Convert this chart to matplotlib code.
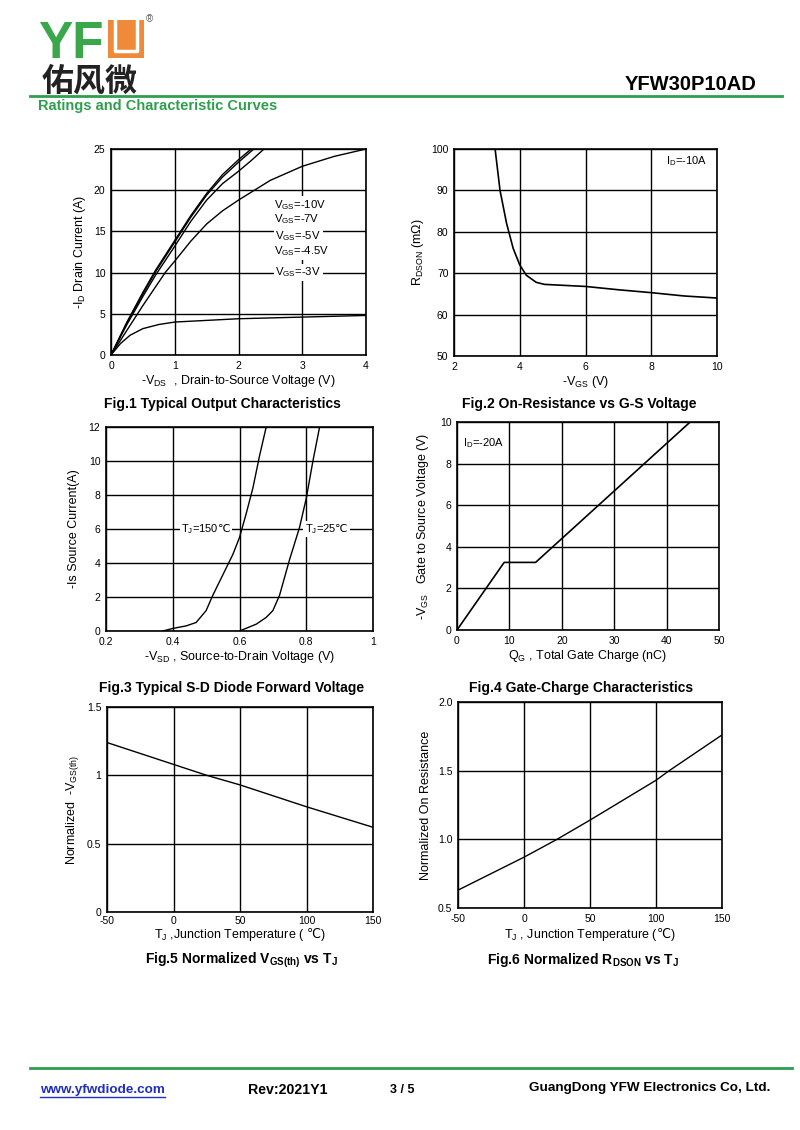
import matplotlib
matplotlib.use("Agg")
import matplotlib.pyplot as plt
from matplotlib.patches import Rectangle
from matplotlib.lines import Line2D

plt.rcParams['font.family'] = ['Liberation Sans', 'DejaVu Sans']
plt.rcParams['mathtext.fontset'] = 'custom'
plt.rcParams['mathtext.rm'] = 'Liberation Sans'
plt.rcParams['mathtext.it'] = 'Liberation Sans'
plt.rcParams['mathtext.bf'] = 'Liberation Sans:bold'
plt.rcParams['mathtext.sf'] = 'DejaVu Sans'
plt.rcParams['axes.unicode_minus'] = False

W, H = 800, 1130
DEGC = '$\\mathsf{\u2103}$'

# ---- data ----
# Fig.1 output characteristics
vds_10 = [0, 0.25, 0.5, 0.7, 1.0, 1.25, 1.5, 1.75, 2.0, 2.2]
id_10 = [0, 4.0, 7.6, 10.3, 13.9, 16.9, 19.6, 21.9, 23.7, 25.0]
vds_7 = [0, 0.25, 0.5, 0.7, 1.0, 1.25, 1.5, 1.75, 2.0, 2.24]
id_7 = [0, 3.9, 7.4, 10.1, 13.7, 16.7, 19.4, 21.6, 23.4, 25.0]
vds_5 = [0, 0.25, 0.5, 0.7, 1.0, 1.25, 1.5, 1.75, 2.0, 2.2, 2.4]
id_5 = [0, 3.7, 7.1, 9.7, 13.2, 16.2, 18.8, 20.8, 22.3, 23.6, 25.0]
vds_45 = [0, 0.25, 0.5, 0.85, 1.0, 1.25, 1.5, 1.75, 2.0, 2.25, 2.5, 3.0, 3.5, 4.0]
id_45 = [0, 3.0, 6.0, 10.0, 11.4, 13.8, 15.9, 17.5, 18.8, 20.0, 21.2, 22.9, 24.1, 25.0]
vds_3 = [0, 0.15, 0.3, 0.5, 0.75, 1.0, 1.5, 2.0, 3.0, 4.0]
id_3 = [0, 1.4, 2.4, 3.2, 3.7, 4.0, 4.2, 4.4, 4.6, 4.8]
vgs_labels = ['$\\mathregular{V_{GS}}$=-10V', '$\\mathregular{V_{GS}}$=-7V',
              '$\\mathregular{V_{GS}}$=-5V', '$\\mathregular{V_{GS}}$=-4.5V',
              '$\\mathregular{V_{GS}}$=-3V']

# Fig.2 on-resistance vs Vgs
vgs_r = [3.25, 3.4, 3.6, 3.8, 4.0, 4.2, 4.5, 4.75, 5.0, 6.0, 7.0, 8.0, 9.0, 10.0]
rdson = [100, 90, 82, 76, 72, 69.5, 67.8, 67.3, 67.2, 66.8, 66.0, 65.3, 64.5, 64.0]

# Fig.3 diode forward voltage
vsd_150 = [0.37, 0.40, 0.44, 0.47, 0.50, 0.52, 0.55, 0.58, 0.60, 0.62, 0.64, 0.66, 0.68]
is_150 = [0, 0.15, 0.3, 0.5, 1.2, 2.1, 3.3, 4.5, 5.5, 6.9, 8.4, 10.3, 12.0]
vsd_25 = [0.60, 0.65, 0.68, 0.70, 0.72, 0.75, 0.78, 0.80, 0.82, 0.84]
is_25 = [0, 0.4, 0.8, 1.2, 2.1, 4.2, 6.1, 7.8, 10.0, 12.0]

# Fig.4 gate charge
qg = [0, 9, 15, 44.5]
vgs_q = [0, 3.25, 3.25, 10.0]

# Fig.5 normalized Vgs(th)
tj5 = [-50, 0, 25, 50, 100, 150]
vth_n = [1.24, 1.08, 1.00, 0.93, 0.77, 0.62]

# Fig.6 normalized Rdson
tj6 = [-50, 0, 25, 50, 100, 110, 150]
ron_n = [0.63, 0.87, 1.00, 1.14, 1.43, 1.50, 1.76]

fig = plt.figure(figsize=(W / 100, H / 100), dpi=100)


def box(l, t, r, b):
    return [l / W, 1 - b / H, (r - l) / W, (b - t) / H]


def fx(x):
    return x / W


def fy(y):
    return 1 - y / H


def style(ax, xt, yt, xlim, ylim, xfmt=None, yfmt=None):
    ax.set_xlim(xlim)
    ax.set_ylim(ylim)
    ax.set_xticks(xt)
    ax.set_yticks(yt)
    if xfmt:
        ax.set_xticklabels(xfmt)
    if yfmt:
        ax.set_yticklabels(yfmt)
    ax.grid(True, color='black', lw=1.0)
    ax.tick_params(length=0, labelsize=7.5, pad=4)
    for s in ax.spines.values():
        s.set_linewidth(1.2)


lab = dict(fontsize=9)
ttl = dict(fontsize=10, fontweight='bold', ha='center', va='center')

# Fig.1
ax1 = fig.add_axes(box(111, 149, 366, 355))
for x, y in [(vds_10, id_10), (vds_7, id_7), (vds_5, id_5), (vds_45, id_45), (vds_3, id_3)]:
    ax1.plot(x, y, color='black', lw=1.0)
style(ax1, [0, 1, 2, 3, 4], [0, 5, 10, 15, 20, 25], (0, 4), (0, 25))
ax1.set_xlabel('-$\\mathregular{V_{DS}}$  , Drain-to-Source Voltage (V)', labelpad=2, **lab)
ax1.set_ylabel('-$\\mathregular{I_D}$ Drain Current (A)', labelpad=4, **lab)
for i, (t, yy) in enumerate(zip(vgs_labels, [18.2, 16.5, 14.4, 12.6, 10.0])):
    xx = 2.55 if i not in (2, 4) else 2.58
    ax1.text(xx, yy, t, fontsize=8.2, va='center', ha='left',
             bbox=dict(fc='white', ec='none', pad=1.2))
fig.text(fx(222), fy(404), 'Fig.1 Typical Output Characteristics', **ttl)

# Fig.2
ax2 = fig.add_axes(box(454, 149, 717, 356))
ax2.plot(vgs_r, rdson, color='black', lw=1.2)
style(ax2, [2, 4, 6, 8, 10], [50, 60, 70, 80, 90, 100], (2, 10), (50, 100))
ax2.set_xlabel('-$\\mathregular{V_{GS}}$ (V)', labelpad=2, **lab)
ax2.set_ylabel('$\\mathregular{R_{DSON}}$ (m\u03a9)', labelpad=4, **lab)
ax2.text(9.7, 97, '$\\mathregular{I_D}$=-10A', fontsize=8, ha='right', va='center')
fig.text(fx(579), fy(404), 'Fig.2 On-Resistance vs G-S Voltage', **ttl)

# Fig.3
ax3 = fig.add_axes(box(106, 427, 373, 631))
ax3.plot(vsd_150, is_150, color='black', lw=1.0)
ax3.plot(vsd_25, is_25, color='black', lw=1.0)
style(ax3, [0.2, 0.4, 0.6, 0.8, 1.0], [0, 2, 4, 6, 8, 10, 12], (0.2, 1.0), (0, 12),
      xfmt=['0.2', '0.4', '0.6', '0.8', '1'])
ax3.set_xlabel('-$\\mathregular{V_{SD}}$ , Source-to-Drain Voltage (V)', labelpad=2, **lab)
ax3.set_ylabel('-Is Source Current(A)', labelpad=6, **lab)
ax3.text(0.425, 6, '$\\mathregular{T_J}$=150' + DEGC, fontsize=8, va='center',
         bbox=dict(fc='white', ec='none', pad=1))
ax3.text(0.795, 6, '$\\mathregular{T_J}$=25' + DEGC, fontsize=8, va='center',
         bbox=dict(fc='white', ec='none', pad=1))
fig.text(fx(232), fy(688), 'Fig.3 Typical S-D Diode Forward Voltage', **ttl)

# Fig.4
ax4 = fig.add_axes(box(457, 422, 719, 630))
ax4.plot(qg, vgs_q, color='black', lw=1.2)
style(ax4, [0, 10, 20, 30, 40, 50], [0, 2, 4, 6, 8, 10], (0, 50), (0, 10))
ax4.set_xlabel('$\\mathregular{Q_G}$ , Total Gate Charge (nC)', labelpad=2, **lab)
ax4.set_ylabel('-$\\mathregular{V_{GS}}$   Gate to Source Voltage (V)', labelpad=6, **lab)
ax4.text(1.2, 9.0, '$\\mathregular{I_D}$=-20A', fontsize=8, va='center')
fig.text(fx(581), fy(688), 'Fig.4 Gate-Charge Characteristics', **ttl)

# Fig.5
ax5 = fig.add_axes(box(107, 707, 373, 912))
ax5.plot(tj5, vth_n, color='black', lw=1.0)
style(ax5, [-50, 0, 50, 100, 150], [0, 0.5, 1.0, 1.5], (-50, 150), (0, 1.5),
      yfmt=['0', '0.5', '1', '1.5'])
ax5.tick_params(axis='x', pad=3)
ax5.set_xlabel('$\\mathregular{T_J}$ ,Junction Temperature ( ' + DEGC + ')', labelpad=0, **lab)
ax5.set_ylabel('Normalized  -$\\mathregular{V_{GS(th)}}$', labelpad=4, **lab)
fig.text(fx(241), fy(960), 'Fig.5 Normalized $\\mathregular{V_{GS(th)}}$ vs $\\mathregular{T_J}$', **ttl)

# Fig.6
ax6 = fig.add_axes(box(458, 702, 722, 908))
ax6.plot(tj6, ron_n, color='black', lw=1.0)
style(ax6, [-50, 0, 50, 100, 150], [0.5, 1.0, 1.5, 2.0], (-50, 150), (0.5, 2.0),
      yfmt=['0.5', '1.0', '1.5', '2.0'])
ax6.set_xlabel('$\\mathregular{T_J}$ , Junction Temperature (' + DEGC + ')', labelpad=2, **lab)
ax6.set_ylabel('Normalized On Resistance', labelpad=4, **lab)
fig.text(fx(583), fy(960), 'Fig.6 Normalized $\\mathregular{R_{DSON}}$ vs $\\mathregular{T_J}$', **ttl)

# ---- header ----
green = '#2f9e4f'
fig.text(fx(38), fy(58), 'YF', fontsize=37, fontweight='bold', color='#3aa84a',
         ha='left', va='baseline')
fig.patches.append(Rectangle((fx(108), fy(58)), fx(36), 38 / H, transform=fig.transFigure,
                             fc='#ef8a3a', ec='none'))
fig.lines.append(Line2D([fx(115), fx(115), fx(137), fx(137)], [fy(20), fy(51), fy(51), fy(20)],
                        transform=fig.transFigure, color='white', lw=2.5))
fig.text(fx(146), fy(19), '\u00ae', fontsize=7, color='#555555', ha='left', va='center')
fig.text(fx(42), fy(91), '\u4f51\u98ce\u5fae', fontsize=23, fontweight='bold',
         family=['Noto Sans CJK SC'], color='#222222', ha='left', va='baseline')
fig.text(fx(757), fy(90), 'YFW30P10AD', fontsize=14.5, fontweight='bold',
         ha='right', va='baseline')
fig.lines.append(Line2D([fx(30), fx(782)], [fy(96), fy(96)], transform=fig.transFigure,
                        color=green, lw=2))
fig.text(fx(38), fy(106), 'Ratings and Characteristic Curves', fontsize=10.5,
         fontweight='bold', color=green, ha='left', va='center')

# ---- footer ----
fig.lines.append(Line2D([fx(30), fx(792)], [fy(1068), fy(1068)], transform=fig.transFigure,
                        color=green, lw=2))
fig.text(fx(40), fy(1090), 'www.yfwdiode.com', fontsize=9.7, fontweight='bold',
         color='#1f2fbf', ha='left', va='center')
fig.lines.append(Line2D([fx(40), fx(165)], [fy(1097), fy(1097)], transform=fig.transFigure,
                        color='#1f2fbf', lw=1))
fig.text(fx(248), fy(1090), 'Rev:2021Y1', fontsize=10.2, fontweight='bold', ha='left', va='center')
fig.text(fx(390), fy(1090), '3 / 5', fontsize=9, fontweight='bold', ha='left', va='center')
fig.text(fx(770), fy(1088), 'GuangDong YFW Electronics Co, Ltd.', fontsize=9.7,
         fontweight='bold', ha='right', va='center')

fig.savefig('out.png', dpi=100, facecolor='white')
